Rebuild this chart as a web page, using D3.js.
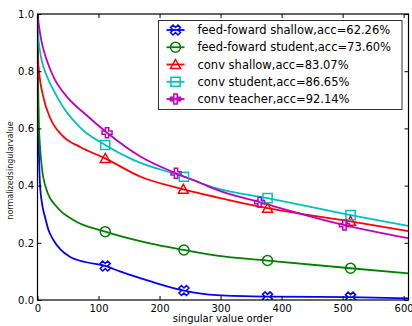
<!DOCTYPE html>
<html>
<head>
<meta charset="utf-8">
<script src="https://cdn.jsdelivr.net/npm/d3@7"></script>
<style>
  html, body { margin: 0; padding: 0; background: #fff; }
  svg { display: block; font-family: "DejaVu Sans", sans-serif; }
</style>
</head>
<body>
<svg id="chart" width="412" height="326"></svg>
<script>
// ---------------- data ----------------
const xTicks = [0, 100, 200, 300, 400, 500, 600];
const yTicks = [0.0, 0.2, 0.4, 0.6, 0.8, 1.0];
const xLabel = "singular value order";
const yLabel = "normalizedsingularvalue";

const seriesNames = [
  "feed-foward shallow,acc=62.26%",
  "feed-foward student,acc=73.60%",
  "conv shallow,acc=83.07%",
  "conv student,acc=86.65%",
  "conv teacher,acc=92.14%"
];

// curves: [singular value order, normalized singular value]
const ffShallow = [[0,1.0],[0.5,0.8],[1,0.68],[2,0.55],[4,0.408],[8,0.33],[12.3,0.29],[18,0.245],[26,0.21],[38,0.176],[53,0.151],[80,0.132],[111,0.119],[135,0.1],[184,0.066],[240,0.033],[294,0.017],[377,0.012],[513,0.01],[608,0.006]];
const ffStudent = [[0,1.0],[0.5,0.86],[1,0.76],[2,0.63],[4,0.54],[7,0.466],[15,0.385],[31.5,0.326],[58.7,0.28],[111,0.239],[184,0.198],[240,0.175],[294,0.155],[377,0.138],[513,0.111],[608,0.093]];
const convShallow = [[0,1.0],[0.3,0.9],[1,0.84],[2.5,0.8],[9.5,0.71],[20.5,0.638],[42,0.572],[70,0.535],[111,0.495],[170,0.43],[239,0.387],[294,0.359],[377,0.321],[513,0.275],[608,0.241]];
const convStudent = [[0,1.0],[1,0.93],[4,0.872],[15,0.785],[26,0.735],[42,0.675],[70,0.603],[111,0.542],[157,0.49],[240,0.431],[294,0.39],[377,0.356],[513,0.297],[608,0.259]];
const convTeacher = [[0,1.0],[3,0.95],[7,0.9],[15,0.84],[26,0.781],[48,0.711],[80,0.647],[114,0.585],[170,0.5],[227,0.443],[266,0.41],[294,0.385],[364,0.342],[503,0.262],[608,0.216]];

// marker points
const ffShallowMarks = [[111,0.119],[240,0.033],[377,0.011],[513,0.010]];
const ffStudentMarks = [[111,0.239],[240,0.175],[377,0.138],[513,0.111]];
const convShallowMarks = [[111,0.495],[239,0.387],[377,0.321],[513,0.275]];
const convStudentMarks = [[111,0.542],[240,0.431],[377,0.356],[513,0.297]];
const convTeacherMarks = [[114,0.585],[227,0.443],[364,0.342],[503,0.262]];

// ---------------- styles ----------------
const colors = ["#0000ff", "#008000", "#ff0000", "#00bfbf", "#bf00bf"];
const shapes = ["X", "o", "^", "s", "P"];

const series = seriesNames.map((name, i) => ({
  name,
  curve: [ffShallow, ffStudent, convShallow, convStudent, convTeacher][i],
  marks: [ffShallowMarks, ffStudentMarks, convShallowMarks, convStudentMarks, convTeacherMarks][i],
  color: colors[i],
  shape: shapes[i]
}));

// ---------------- layout ----------------
const L = 37.5, R = 408.5, T = 14, B = 300;
const svg = d3.select("#chart");
const x = d3.scaleLinear().domain([0, 608]).range([L, R]);
const y = d3.scaleLinear().domain([0, 1]).range([B, T]);

svg.append("defs").append("clipPath").attr("id", "clip")
  .append("rect").attr("x", L).attr("y", T).attr("width", R - L).attr("height", B - T);

function markerPath(shape, s) {
  const h = s / 2;
  if (shape === "o") {
    const p = d3.path(); p.moveTo(h, 0); p.arc(0, 0, h, 0, 2 * Math.PI); p.closePath(); return p.toString();
  }
  if (shape === "^") {
    return `M0,${-h}L${h},${h * 0.8}L${-h},${h * 0.8}Z`;
  }
  if (shape === "s") {
    const q = h * 0.92;
    return `M${-q},${-q}L${q},${-q}L${q},${q}L${-q},${q}Z`;
  }
  if (shape === "P") {
    const pts = [[-1,-3],[1,-3],[1,-1],[3,-1],[3,1],[1,1],[1,3],[-1,3],[-1,1],[-3,1],[-3,-1],[-1,-1]];
    return "M" + pts.map(p => [p[0] * s / 6, p[1] * s / 6].join(",")).join("L") + "Z";
  }
  if (shape === "X") {
    const pts = [[0.25,0],[0.5,0.25],[0.25,0.5],[0,0.25],[-0.25,0.5],[-0.5,0.25],[-0.25,0],[-0.5,-0.25],[-0.25,-0.5],[0,-0.25],[0.25,-0.5],[0.5,-0.25]];
    return "M" + pts.map(p => [p[0] * s, p[1] * s].join(",")).join("L") + "Z";
  }
  return "";
}

// ---------------- curves ----------------
const line = d3.line().x(d => x(d[0])).y(d => y(d[1])).curve(d3.curveMonotoneX);
const plot = svg.append("g").attr("clip-path", "url(#clip)");
series.forEach(s => {
  plot.append("path").datum(s.curve)
    .attr("d", line)
    .attr("fill", "none")
    .attr("stroke", s.color)
    .attr("stroke-width", 1.8)
    .attr("stroke-linejoin", "round");
});
series.forEach(s => {
  plot.selectAll(null).data(s.marks).enter().append("path")
    .attr("d", markerPath(s.shape, 10))
    .attr("transform", d => `translate(${x(d[0])},${y(d[1])})`)
    .attr("fill", "none")
    .attr("stroke", s.color)
    .attr("stroke-width", 1.5);
});

// ---------------- axes ----------------
const fmtY = d3.format(".1f");
const gx = svg.append("g").attr("transform", `translate(0,${B})`)
  .call(d3.axisBottom(x).tickValues(xTicks).tickSizeInner(-4).tickSizeOuter(0).tickPadding(5).tickFormat(d3.format("d")));
const gy = svg.append("g").attr("transform", `translate(${L},0)`)
  .call(d3.axisLeft(y).tickValues(yTicks).tickSizeInner(-4).tickSizeOuter(0).tickPadding(3.5).tickFormat(fmtY));
const gt = svg.append("g").attr("transform", `translate(0,${T})`)
  .call(d3.axisTop(x).tickValues(xTicks).tickSizeInner(-4).tickSizeOuter(0).tickFormat(""));
const gr = svg.append("g").attr("transform", `translate(${R},0)`)
  .call(d3.axisRight(y).tickValues(yTicks).tickSizeInner(-4).tickSizeOuter(0).tickFormat(""));

[gx, gy, gt, gr].forEach(g => {
  g.select(".domain").remove();
  g.selectAll("line").attr("stroke", "#000").attr("stroke-width", 1);
  g.selectAll("text").attr("fill", "#000").style("font-size", "10px").style("font-family", "DejaVu Sans");
});

svg.append("rect").attr("x", L).attr("y", T).attr("width", R - L).attr("height", B - T)
  .attr("fill", "none").attr("stroke", "#000").attr("stroke-width", 1.2);

svg.append("text").attr("x", (L + R) / 2).attr("y", 322)
  .attr("text-anchor", "middle").style("font-size", "10px").attr("fill", "#000")
  .text(xLabel);

svg.append("text").attr("transform", "translate(13,170.5) rotate(-90)")
  .attr("text-anchor", "middle").style("font-size", "8px").attr("fill", "#222")
  .text(yLabel);

// ---------------- legend ----------------
const legX = 158.5, legY = 20.5, legW = 243.5, legH = 89;
const leg = svg.append("g");
leg.append("rect").attr("x", legX).attr("y", legY).attr("width", legW).attr("height", legH)
  .attr("fill", "#fff").attr("stroke", "#333").attr("stroke-width", 1);
series.forEach((s, i) => {
  const ry = 30 + i * 17.25;
  leg.append("line").attr("x1", 166.5).attr("x2", 184.5).attr("y1", ry).attr("y2", ry)
    .attr("stroke", s.color).attr("stroke-width", 1.8);
  leg.append("path").attr("d", markerPath(s.shape, 10))
    .attr("transform", `translate(175.5,${ry})`)
    .attr("fill", "none").attr("stroke", s.color).attr("stroke-width", 1.5);
  leg.append("text").attr("x", 197.5).attr("y", ry).attr("dy", "0.36em")
    .style("font-size", "11.5px").attr("fill", "#000").text(s.name);
});
</script>
</body>
</html>
